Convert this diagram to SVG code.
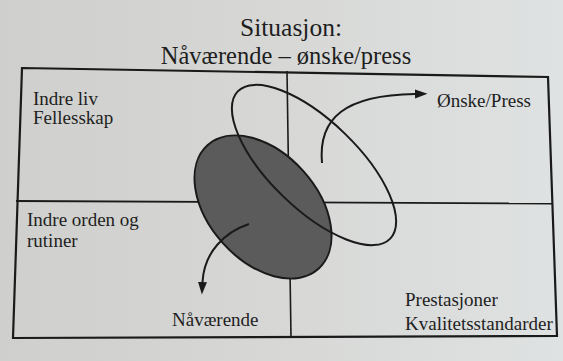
<svg xmlns="http://www.w3.org/2000/svg" width="563" height="361" viewBox="0 0 563 361">
  <defs>
    <linearGradient id="paper" x1="0" y1="0" x2="1" y2="0">
      <stop offset="0" stop-color="#cfd0cd"/>
      <stop offset="0.5" stop-color="#d7d8d6"/>
      <stop offset="1" stop-color="#dfe2e2"/>
    </linearGradient>
    <marker id="ah" markerUnits="userSpaceOnUse" markerWidth="13" markerHeight="10" refX="0" refY="4.5" orient="auto">
      <path d="M0,0 L12.5,4.5 L0,9 z" fill="#1a1a1a"/>
    </marker>
    <style>
      .ln { fill: none; stroke: #1a1a1a; }
    </style>
  </defs>
  <rect x="0" y="0" width="563" height="361" fill="url(#paper)"/>

  <g id="frame">
    <polygon class="ln" points="22,68 548,77 557,336 13,338" stroke-width="2.2"/>
    <line class="ln" x1="287" y1="71" x2="291" y2="337" stroke-width="1.6"/>
    <line class="ln" x1="16" y1="201" x2="552" y2="203.5" stroke-width="1.8"/>
  </g>

  <g font-family="'Liberation Serif', 'Times New Roman', serif" fill="#1e1e1e">
    <g id="title" text-anchor="middle">
      <text x="291" y="35.5" font-size="25.5">Situasjon:</text>
      <text x="286" y="64" font-size="24.5">Nåværende – ønske/press</text>
    </g>
    <g font-size="19">
      <g id="q1">
        <text x="33" y="105">Indre liv</text>
        <text x="33" y="124">Fellesskap</text>
      </g>
      <g id="q2">
        <text x="437" y="107">Ønske/Press</text>
      </g>
      <g id="q3">
        <text x="27" y="226">Indre orden og</text>
        <text x="27" y="247">rutiner</text>
      </g>
      <g id="q4">
        <text x="405" y="306">Prestasjoner</text>
        <text x="405" y="330">Kvalitetsstandarder</text>
      </g>
    </g>
  </g>

  <g id="navaerende">
    <ellipse cx="263" cy="207" rx="83" ry="54" transform="rotate(48 263 207)" fill="#5b5b5b" stroke="#1a1a1a" stroke-width="2"/>
    <text x="172" y="326" font-family="'Liberation Serif', 'Times New Roman', serif" font-size="19" fill="#1e1e1e">Nåværende</text>
  </g>

  <g id="onske">
    <ellipse cx="314" cy="165" rx="106" ry="44" transform="rotate(44 314 165)" fill="none" stroke="#1a1a1a" stroke-width="2"/>
  </g>

  <g id="connectors">
    <path class="ln" d="M322,163 C318,118 345,95 415,94" stroke-width="2" marker-end="url(#ah)"/>
    <path class="ln" d="M249,224 C225,232 204,252 202.5,282" stroke-width="2" marker-end="url(#ah)"/>
  </g>
</svg>
